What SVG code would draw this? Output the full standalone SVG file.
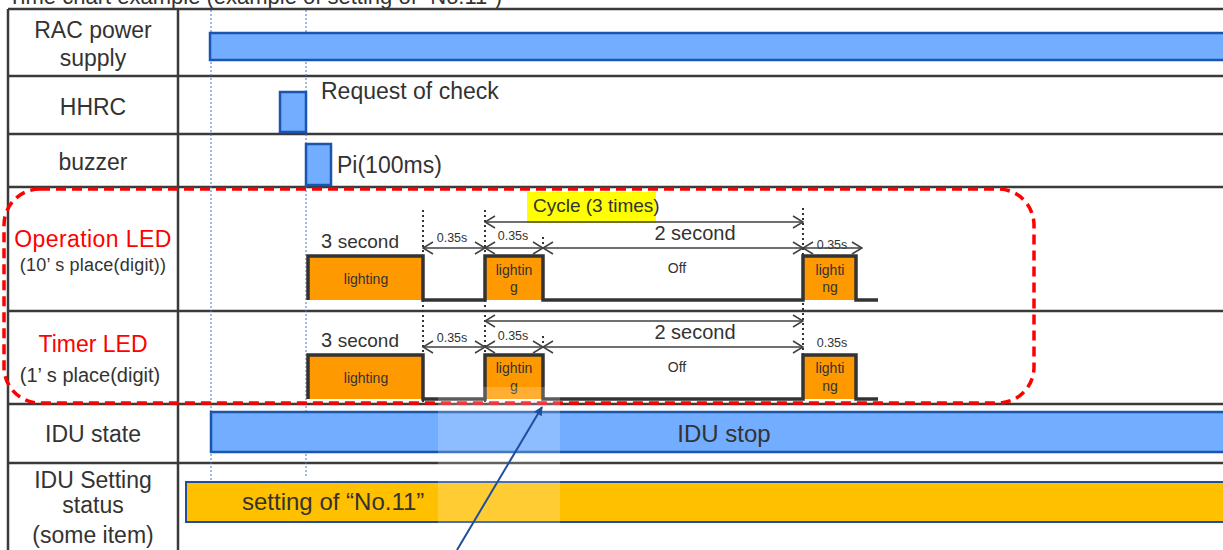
<svg xmlns="http://www.w3.org/2000/svg" width="1223" height="550" viewBox="0 0 1223 550">
<style>
text{font-family:"Liberation Sans",Arial,sans-serif;fill:#333}
.lbl{font-size:23px;text-anchor:middle}
.red{fill:#FF0000}
.grid{stroke:#3a3a3a;stroke-width:2.5;fill:none}
.guide{stroke:#4472C4;stroke-width:1;stroke-dasharray:2,2;fill:none}
.dot{stroke:#333;stroke-width:2;stroke-dasharray:2,3;fill:none}
.bluebar{fill:#72ADFF;stroke:#1A56B0;stroke-width:2.5}
.wave{fill:none;stroke:#333;stroke-width:3.5;stroke-linejoin:miter}
.pulse{fill:#FF9900}
.dim{stroke:#404040;stroke-width:1.5;fill:none;marker-start:url(#oa);marker-end:url(#oa)}
.s12{font-size:12.5px;text-anchor:middle}
.s14{font-size:14px;text-anchor:middle}
.s20{font-size:20px;text-anchor:middle}
</style>
<defs>
<marker id="oa" viewBox="0 0 12 14" refX="11" refY="7" markerWidth="12" markerHeight="14" markerUnits="userSpaceOnUse" orient="auto-start-reverse">
<path d="M1,1 L11,7 L1,13" fill="none" stroke="#404040" stroke-width="1.5"/>
</marker>
<marker id="ba" viewBox="0 0 10 10" refX="9" refY="5" markerWidth="9" markerHeight="9" markerUnits="userSpaceOnUse" orient="auto">
<path d="M0,0 L10,5 L0,10 z" fill="#1F4E9F"/>
</marker>
</defs>
<rect width="1223" height="550" fill="#fff"/>
<text x="8" y="4" font-size="22">Time chart example (example of setting of “No.11”)</text>

<g id="grid">
<path class="grid" d="M8,9 H1223 M8,76 H1223 M8,134 H1223 M8,187 H1223 M8,311 H1223 M8,404 H1223 M8,463 H1223 M8,9 V550 M178,9 V550"/>
<path class="guide" d="M211,10 V480 M306,10 V478"/>
</g>

<g id="rac-power">
<text class="lbl" x="93" y="38">RAC power</text>
<text class="lbl" x="93" y="66">supply</text>
<rect class="bluebar" x="210" y="33" width="1020" height="27"/>
</g>

<g id="hhrc">
<text class="lbl" x="93" y="115">HHRC</text>
<rect class="bluebar" x="280" y="92" width="26" height="40"/>
<text x="321" y="99" font-size="23">Request of check</text>
</g>

<g id="buzzer">
<text class="lbl" x="93" y="170">buzzer</text>
<rect class="bluebar" x="306" y="144" width="25" height="41"/>
<text x="337" y="173" font-size="23">Pi(100ms)</text>
</g>

<g id="operation-led">
<text class="lbl red" x="93" y="247" letter-spacing="0.4">Operation LED</text>
<text x="93" y="271" font-size="18" text-anchor="middle" letter-spacing="0.2">(10’ s place(digit))</text>
<rect class="pulse" x="308" y="256" width="115" height="44"/>
<rect class="pulse" x="485" y="256" width="58" height="44"/>
<rect class="pulse" x="803" y="256" width="54" height="44"/>
<path class="wave" d="M308,300 V256 H423 V300 H485 V256 H543 V300 H803 V256 H856 V300 H878"/>
<text x="321" y="248" font-size="20">3 <tspan font-size="19">second</tspan></text>
<text class="s14" x="366" y="284">lighting</text>
<text class="s14" x="514" y="275">lightin</text>
<text class="s14" x="514" y="292">g</text>
<text class="s14" x="830" y="275">lighti</text>
<text class="s14" x="830" y="292">ng</text>
<text class="s14" x="677" y="273">Off</text>
<rect x="527" y="192" width="129" height="31" fill="#FFFF00"/>
<text x="533" y="212" font-size="19">Cycle (3 times)</text>
<text class="s12" x="452" y="242">0.35s</text>
<text class="s12" x="513" y="240">0.35s</text>
<text class="s20" x="695" y="240">2 second</text>
<text class="s12" x="832" y="249">0.35s</text>
</g>

<g id="timer-led">
<text class="lbl red" x="93" y="352">Timer LED</text>
<text x="90" y="382" font-size="20" text-anchor="middle">(1’ s place(digit)</text>
<rect class="pulse" x="308" y="355" width="115" height="44"/>
<rect class="pulse" x="485" y="355" width="58" height="44"/>
<rect class="pulse" x="803" y="355" width="54" height="44"/>
<path class="wave" d="M308,399 V355 H423 V399 H485 V355 H543 V399 H803 V355 H856 V399 H878"/>
<text x="321" y="347" font-size="20">3 <tspan font-size="19">second</tspan></text>
<text class="s14" x="366" y="383">lighting</text>
<text class="s14" x="514" y="373">lightin</text>
<text class="s14" x="514" y="391">g</text>
<text class="s14" x="830" y="373">lighti</text>
<text class="s14" x="830" y="391">ng</text>
<text class="s14" x="677" y="372">Off</text>
<text class="s12" x="452" y="342">0.35s</text>
<text class="s12" x="513" y="340">0.35s</text>
<text class="s20" x="695" y="339">2 second</text>
<text class="s12" x="832" y="347">0.35s</text>
</g>

<g id="idu-state">
<text class="lbl" x="93" y="442">IDU state</text>
<rect class="bluebar" x="211" y="412" width="1020" height="40"/>
<text x="724" y="442" font-size="24" text-anchor="middle">IDU stop</text>
</g>

<g id="idu-setting">
<text class="lbl" x="93" y="488">IDU Setting</text>
<text class="lbl" x="93" y="513">status</text>
<text class="lbl" x="93" y="543">(some item)</text>
<rect x="186" y="482" width="1045" height="40" fill="#FFC000" stroke="#1F4E9F" stroke-width="2"/>
<text x="242" y="510" font-size="24">setting of “No.11”</text>
</g>

<g id="connectors">
<path class="dot" d="M423,210 V405 M485,210 V405 M543,237 V250 M543,336 V349 M803,208 V405"/>
<path class="dim" d="M485,222 H803"/>
<path class="dim" d="M423,248 H485"/>
<path class="dim" d="M485,248 H543"/>
<path class="dim" d="M543,248 H803"/>
<path class="dim" d="M803,248 H862"/>
<path class="dim" d="M485,321 H803"/>
<path class="dim" d="M423,347 H485"/>
<path class="dim" d="M485,347 H543"/>
<path class="dim" d="M543,347 H803"/>
</g>

<g id="callout">
<rect x="4" y="189" width="1030" height="214" rx="36" ry="36" fill="none" stroke="#FF0000" stroke-width="3.5" stroke-dasharray="10,6"/>
<rect x="438" y="387" width="122" height="163" fill="#fff" opacity="0.2"/>
<path d="M457,550 L542,407" stroke="#1F4E9F" stroke-width="2" fill="none" marker-end="url(#ba)"/>
</g>
</svg>
